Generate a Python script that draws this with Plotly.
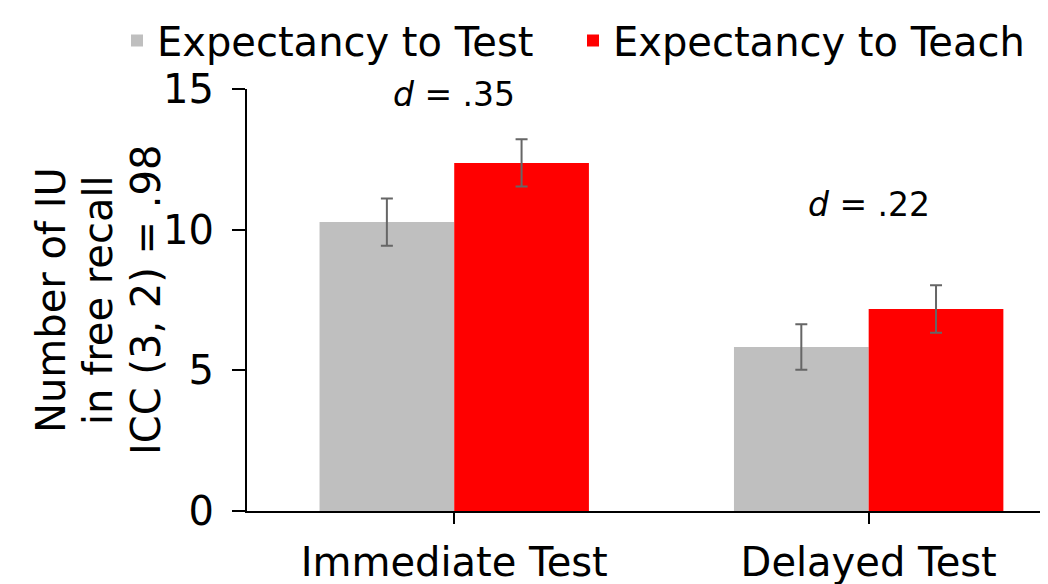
import plotly.graph_objects as go

categories = ["Immediate Test", "Delayed Test"]
test_vals = [10.27, 5.83]
test_err = [0.84, 0.81]
teach_vals = [12.37, 7.18]
teach_err = [0.84, 0.84]
series_names = ["Expectancy to Test", "Expectancy to Teach"]
effect_labels = ["<i>d</i> = .35", "<i>d</i> = .22"]
effect_y = [14.8, 10.9]
ytick_vals = [0, 5, 10, 15]
y_title_lines = ["Number of IU", "in free recall", "ICC (3, 2) = .98"]

FONT = "DejaVu Sans"
err_style = dict(type="data", visible=True, color="#666666", thickness=2, width=6)

fig = go.Figure()
fig.add_trace(go.Bar(x=categories, y=test_vals, name=series_names[0],
                     marker=dict(color="#BFBFBF", line=dict(width=0)),
                     error_y=dict(array=test_err, **err_style)))
fig.add_trace(go.Bar(x=categories, y=teach_vals, name=series_names[1],
                     marker=dict(color="#FF0000", line=dict(width=0)),
                     error_y=dict(array=teach_err, **err_style)))

for cat, lab, yy in zip(categories, effect_labels, effect_y):
    fig.add_annotation(x=cat, y=yy, text=lab, showarrow=False,
                       font=dict(family=FONT, size=33, color="black"))

PLOT_W = 809
for line, px in zip(y_title_lines, [51, 98, 146]):
    fig.add_annotation(x=(px - 247) / PLOT_W, y=0.5, xref="paper", yref="paper", text=line,
                       textangle=-90, showarrow=False, xanchor="center", yanchor="middle",
                       font=dict(family=FONT, size=40, color="black"))

fig.update_layout(
    width=1048, height=584,
    margin=dict(l=239, r=0, t=81, b=81),
    paper_bgcolor="white", plot_bgcolor="white",
    barmode="group", bargap=0.35, bargroupgap=0,
    font=dict(family=FONT, size=40, color="black"),
    showlegend=True,
    legend=dict(orientation="h", x=-0.1607, y=1.192, xanchor="left", yanchor="top",
                font=dict(family=FONT, size=40), itemwidth=30,
                entrywidth=411, entrywidthmode="pixels",
                bgcolor="rgba(0,0,0,0)", tracegroupgap=0),
    xaxis=dict(range=[-0.5, 1.452], showline=True, linecolor="black", linewidth=2,
               ticks="outside", ticklen=11, tickcolor="black", tickwidth=2,
               showgrid=False, zeroline=False, tickfont=dict(size=40), ticklabelstandoff=4),
    yaxis=dict(range=[0, 15], tickvals=ytick_vals, showline=True, linecolor="black",
               linewidth=2, ticks="outside", ticklen=13, tickcolor="black", tickwidth=2,
               showgrid=False, zeroline=False, tickfont=dict(size=40), ticklabelstandoff=10),
)

fig.write_html("out.html")
